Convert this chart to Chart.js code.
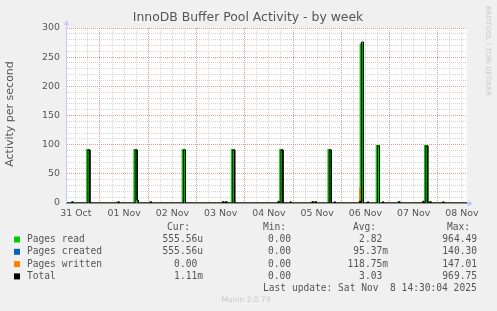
<!DOCTYPE html>
<html>
<head>
<meta charset="utf-8">
<script src="https://cdn.jsdelivr.net/npm/chart.js@4/dist/chart.umd.min.js"></script>
<style>
  body { margin: 0; background: #f0f0f0; }
  #wrap { position: relative; width: 497px; height: 311px; }
</style>
</head>
<body>
<div id="wrap"><canvas id="chart"></canvas></div>
<script>
// hours since 31 Oct 00:00, each sample is a 30 min bin: [start hour, value]
var xMin = 7.6, xMax = 206.5;
var dayLabels = ['31 Oct', '01 Nov', '02 Nov', '03 Nov', '04 Nov', '05 Nov', '06 Nov', '07 Nov', '08 Nov'];

var pagesRead = [
  [10.0, 1], [17.5, 91], [18.0, 91], [32.5, 1], [41.0, 91], [41.5, 91], [49.0, 1],
  [65.0, 91], [65.5, 91], [85.0, 2], [86.5, 2], [89.5, 91], [90.0, 91],
  [113.5, 91], [114.0, 91], [129.5, 2], [131.0, 2], [137.5, 91], [138.0, 91],
  [153.5, 272], [154.0, 272], [161.5, 98], [162.0, 98], [172.5, 2],
  [185.5, 98], [186.0, 98], [188.0, 2]
];
var pagesCreated = [[153.5, 2]];
var pagesWritten = [[112.5, 2], [153.0, 27], [153.5, 27], [184.5, 3]];
var total = [
  [10.0, 2], [18.0, 91], [18.5, 91], [33.0, 2], [41.5, 91], [42.0, 91], [42.5, 5], [49.0, 2],
  [65.5, 91], [66.0, 91], [85.0, 2], [86.5, 2], [90.0, 91], [90.5, 91],
  [112.5, 3], [114.0, 91], [114.5, 91], [118.5, 2], [129.5, 2], [131.0, 2],
  [138.0, 91], [138.5, 91], [140.5, 2], [153.0, 3], [154.0, 276], [154.5, 276],
  [157.0, 2], [162.0, 98], [162.5, 98], [164.5, 2], [172.5, 2], [184.5, 3],
  [186.0, 98], [186.5, 98], [188.0, 2], [194.5, 2]
];

var seriesNames = ['Pages read', 'Pages created', 'Pages written', 'Total'];
var seriesColors = ['#00cc00', '#0066b3', '#ff8000', '#000000'];
var lineWidths = [1.6, 1, 1, 1];
var curValues = ['555.56u', '555.56u', '0.00 ', '1.11m'];
var minValues = ['0.00', '0.00', '0.00', '0.00'];
var avgValues = ['2.82 ', '95.37m', '118.75m', '3.03 '];
var maxValues = ['964.49', '140.30', '147.01', '969.75'];

// turn 30 min bins into a step outline
function steps(samples) {
  var pts = [{ x: xMin, y: 0 }];
  var prevEnd = null;
  samples.forEach(function (s, i) {
    var start = s[0], end = s[0] + 0.5;
    if (prevEnd !== start) pts.push({ x: start, y: 0 });
    pts.push({ x: start, y: s[1] });
    pts.push({ x: end, y: s[1] });
    var next = samples[i + 1];
    if (!next || next[0] !== end) pts.push({ x: end, y: 0 });
    prevEnd = end;
  });
  pts.push({ x: xMax, y: 0 });
  return pts;
}

var allSeries = [pagesRead, pagesCreated, pagesWritten, total];
var datasets = allSeries.map(function (s, i) {
  return {
    label: seriesNames[i],
    data: steps(s),
    borderColor: seriesColors[i],
    borderWidth: lineWidths[i],
    pointRadius: 0,
    tension: 0,
    fill: false,
    order: 3 - i
  };
});

var xTicks = [];
for (var h = 12; h <= 204; h += 6) xTicks.push(h);

var majorGrid = '#e49a9a';
var minorGrid = 'rgba(200,200,200,0.75)';

var decor = {
  id: 'decor',
  beforeDraw: function (chart) {
    var c = chart.ctx, a = chart.chartArea;
    c.save();
    c.fillStyle = '#f0f0f0';
    c.fillRect(0, 0, chart.width, chart.height);
    c.fillStyle = '#ffffff';
    c.fillRect(a.left, a.top, a.right - a.left, a.bottom - a.top);
    c.restore();
  },
  afterDraw: function (chart) {
    var c = chart.ctx, a = chart.chartArea;
    c.save();
    // axes with arrows
    c.strokeStyle = '#c8c8f4';
    c.lineWidth = 1;
    c.beginPath();
    c.moveTo(a.left - 0.5, a.bottom);
    c.lineTo(a.left - 0.5, a.top - 6);
    c.stroke();
    c.fillStyle = '#c8c8f4';
    c.beginPath();
    c.moveTo(a.left - 3, a.top - 3);
    c.lineTo(a.left + 2, a.top - 3);
    c.lineTo(a.left - 0.5, a.top - 8);
    c.closePath();
    c.fill();
    c.strokeStyle = '#9090a8';
    c.beginPath();
    c.moveTo(a.left - 1, a.bottom + 0.5);
    c.lineTo(a.right + 2, a.bottom + 0.5);
    c.stroke();
    c.fillStyle = '#c0c8f8';
    c.beginPath();
    c.moveTo(a.right + 1, a.bottom - 2.5);
    c.lineTo(a.right + 1, a.bottom + 3.5);
    c.lineTo(a.right + 6, a.bottom + 0.5);
    c.closePath();
    c.fill();

    // title
    c.fillStyle = '#555';
    c.font = '12.4px "DejaVu Sans"';
    c.textAlign = 'center';
    c.textBaseline = 'middle';
    c.fillText('InnoDB Buffer Pool Activity - by week', 248, 18);

    // y axis title
    c.save();
    c.translate(10, 114);
    c.rotate(-Math.PI / 2);
    c.font = '11px "DejaVu Sans"';
    c.fillText('Activity per second', 0, 0);
    c.restore();

    // side credit
    c.save();
    c.translate(488, 6);
    c.rotate(Math.PI / 2);
    c.fillStyle = '#c8c8c8';
    c.font = '7px "DejaVu Sans"';
    c.textAlign = 'left';
    c.fillText('RRDTOOL / TOBI OETIKER', 0, 0);
    c.restore();

    // legend
    c.font = '9.6px "DejaVu Sans Mono"';
    c.fillStyle = '#555';
    c.textAlign = 'left';
    c.fillText('Cur:', 167, 227);
    c.fillText('Min:', 263, 227);
    c.fillText('Avg:', 353, 227);
    c.fillText('Max:', 447, 227);
    for (var i = 0; i < seriesNames.length; i++) {
      var y = 239.5 + i * 12.3;
      c.fillStyle = seriesColors[i];
      c.fillRect(14, y - 3, 6, 6);
      c.fillStyle = '#555';
      c.textAlign = 'left';
      c.fillText(seriesNames[i], 27, y);
      c.textAlign = 'right';
      c.fillText(curValues[i], 203, y);
      c.fillText(minValues[i], 291, y);
      c.fillText(avgValues[i], 388, y);
      c.fillText(maxValues[i], 477, y);
    }
    c.textAlign = 'left';
    c.fillText('Last update: Sat Nov  8 14:30:04 2025', 263, 288);

    c.fillStyle = '#c8c8c8';
    c.font = '7.5px "DejaVu Sans"';
    c.textAlign = 'center';
    c.fillText('Munin 2.0.73', 246, 300);
    c.restore();
  }
};

new Chart(document.getElementById('chart'), {
  type: 'line',
  data: { datasets: datasets },
  options: {
    responsive: true,
    maintainAspectRatio: false,
    animation: false,
    events: [],
    layout: { padding: { left: 0, top: 28, right: 30, bottom: 86 } },
    plugins: { legend: { display: false }, tooltip: { enabled: false } },
    scales: {
      x: {
        type: 'linear',
        min: xMin,
        max: xMax,
        afterFit: function (s) { s.height = 22; },
        afterBuildTicks: function (s) { s.ticks = xTicks.map(function (v) { return { value: v }; }); },
        grid: {
          drawTicks: false,
          color: function (ctx) {
            return ctx.tick && ctx.tick.value % 24 === 0 ? majorGrid : minorGrid;
          }
        },
        border: { display: false, dash: [1, 1] },
        ticks: {
          padding: 5,
          autoSkip: false,
          maxRotation: 0,
          color: '#555',
          font: { family: 'DejaVu Sans', size: 9.4 },
          callback: function (v) {
            return (v - 12) % 24 === 0 ? dayLabels[(v - 12) / 24] : '';
          }
        }
      },
      y: {
        min: 0,
        max: 300,
        afterFit: function (s) { s.width = 67; },
        grid: {
          drawTicks: false,
          color: function (ctx) {
            return ctx.tick && ctx.tick.value % 50 === 0 ? majorGrid : minorGrid;
          }
        },
        border: { display: false, dash: [1, 1] },
        ticks: {
          stepSize: 10,
          padding: 7,
          autoSkip: false,
          color: '#555',
          font: { family: 'DejaVu Sans', size: 9.4 },
          callback: function (v) { return v % 50 === 0 ? String(v) : ''; }
        }
      }
    }
  },
  plugins: [decor]
});
</script>
</body>
</html>
